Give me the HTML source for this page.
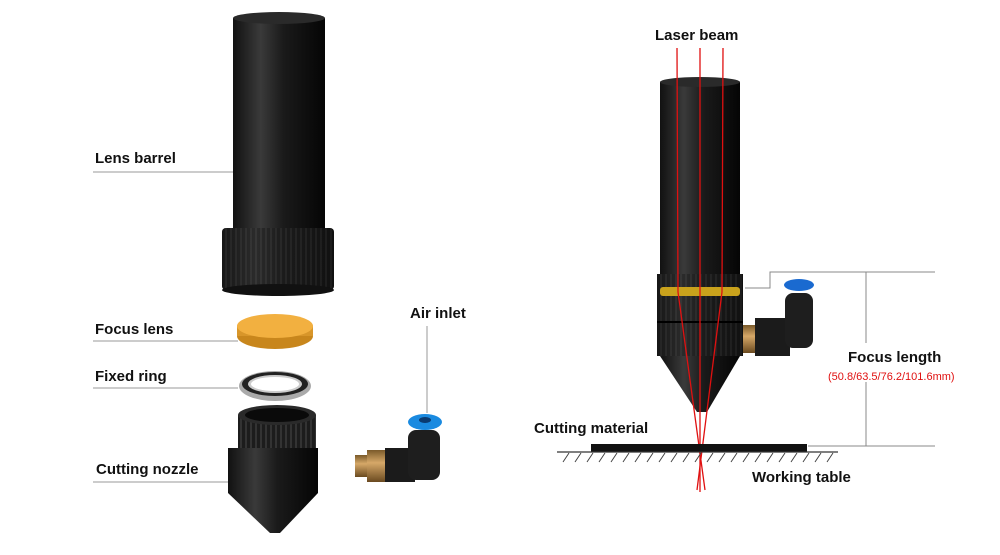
<!DOCTYPE html>
<html><head><meta charset="utf-8"><style>
body{margin:0;background:#fff;width:1000px;height:550px;overflow:hidden}
text{font-family:"Liberation Sans",Arial,sans-serif;font-weight:bold;font-size:15px;fill:#111}
</style></head><body>
<svg width="1000" height="550" viewBox="0 0 1000 550" xmlns="http://www.w3.org/2000/svg">
<defs>
<linearGradient id="blk" x1="0" x2="1"><stop offset="0" stop-color="#111"/><stop offset=".3" stop-color="#3a3a3a"/><stop offset=".55" stop-color="#1a1a1a"/><stop offset="1" stop-color="#050505"/></linearGradient>
<linearGradient id="brass" x1="0" x2="0" y1="0" y2="1"><stop offset="0" stop-color="#7a5a2a"/><stop offset=".4" stop-color="#d6a868"/><stop offset="1" stop-color="#6a4a20"/></linearGradient>
<pattern id="knurl" width="5" height="10" patternUnits="userSpaceOnUse"><rect width="5" height="10" fill="#1c1c1c"/><rect width="2" height="10" fill="#333"/></pattern>
</defs>
<!-- left barrel -->
<rect x="233" y="18" width="92" height="210" fill="url(#blk)"/>
<ellipse cx="279" cy="18" rx="46" ry="6" fill="#2a2a2a"/>
<rect x="222" y="228" width="112" height="62" rx="4" fill="url(#knurl)"/>
<rect x="222" y="228" width="112" height="62" rx="4" fill="url(#blk)" opacity=".5"/>
<ellipse cx="278" cy="290" rx="56" ry="6" fill="#111"/>
<!-- focus lens -->
<ellipse cx="275" cy="336" rx="38" ry="13" fill="#c8861c"/>
<rect x="237" y="326" width="76" height="10" fill="#d8962a"/>
<ellipse cx="275" cy="326" rx="38" ry="12" fill="#f2b040"/>
<!-- fixed ring -->
<ellipse cx="275" cy="386" rx="36" ry="15" fill="#aaa"/>
<ellipse cx="275" cy="384" rx="33" ry="12" fill="#222"/>
<ellipse cx="275" cy="384" rx="27" ry="9" fill="#ccc"/>
<ellipse cx="275" cy="384" rx="24" ry="7" fill="#fff"/>
<!-- cutting nozzle -->
<rect x="238" y="415" width="78" height="35" fill="url(#knurl)"/>
<ellipse cx="277" cy="415" rx="39" ry="10" fill="#2a2a2a"/>
<ellipse cx="277" cy="415" rx="32" ry="7" fill="#0a0a0a"/>
<rect x="228" y="448" width="90" height="45" fill="url(#blk)"/>
<polygon points="228,493 318,493 280,533 270,533" fill="url(#blk)"/>
<!-- air fitting left -->
<rect x="355" y="455" width="12" height="22" fill="url(#brass)"/>
<rect x="367" y="450" width="20" height="32" fill="url(#brass)"/>
<rect x="385" y="448" width="30" height="34" fill="#1b1b1b"/>
<rect x="408" y="430" width="32" height="50" rx="8" fill="#1e1e1e"/>
<ellipse cx="425" cy="422" rx="17" ry="8" fill="#1a8ae0"/>
<ellipse cx="425" cy="420" rx="6" ry="3" fill="#0a3a70"/>
<!-- left labels -->
<text x="95" y="163">Lens barrel</text>
<line x1="93" y1="172" x2="233" y2="172" stroke="#999"/>
<text x="95" y="334">Focus lens</text>
<line x1="93" y1="341" x2="238" y2="341" stroke="#999"/>
<text x="95" y="381">Fixed ring</text>
<line x1="93" y1="388" x2="238" y2="388" stroke="#999"/>
<text x="96" y="474">Cutting nozzle</text>
<line x1="93" y1="482" x2="228" y2="482" stroke="#999"/>
<text x="410" y="318">Air inlet</text>
<line x1="427" y1="326" x2="427" y2="413" stroke="#999"/>
<!-- right assembly -->
<rect x="660" y="82" width="80" height="192" fill="url(#blk)"/>
<ellipse cx="700" cy="82" rx="40" ry="5" fill="#2a2a2a"/>
<rect x="657" y="274" width="86" height="82" fill="url(#knurl)"/>
<rect x="657" y="274" width="86" height="82" fill="url(#blk)" opacity=".5"/>
<rect x="660" y="287" width="80" height="9" rx="3" fill="#c9a21c"/>
<line x1="657" y1="322" x2="743" y2="322" stroke="#000" stroke-width="2"/>
<polygon points="660,356 740,356 707,412 697,412" fill="url(#blk)"/>
<rect x="743" y="325" width="14" height="28" fill="url(#brass)"/>
<rect x="755" y="318" width="35" height="38" fill="#1b1b1b"/>
<rect x="785" y="293" width="28" height="55" rx="8" fill="#1e1e1e"/>
<ellipse cx="799" cy="285" rx="15" ry="6" fill="#1a6ad0"/>
<!-- beams -->
<g stroke="#e01010" stroke-width="1.3" fill="none">
<polyline points="677,48 678,292 705,490"/>
<line x1="700" y1="48" x2="700" y2="492"/>
<polyline points="723,48 722,292 697,490"/>
</g>
<text x="655" y="40">Laser beam</text>
<!-- dimension lines -->
<polyline points="745,288 770,288 770,272 935,272" fill="none" stroke="#888"/>
<line x1="866" y1="272" x2="866" y2="343" stroke="#888"/>
<line x1="866" y1="382" x2="866" y2="446" stroke="#888"/>
<line x1="808" y1="446" x2="935" y2="446" stroke="#888"/>
<text x="848" y="362">Focus length</text>
<text x="828" y="380" style="font-weight:normal;font-size:11px;fill:#e01010">(50.8/63.5/76.2/101.6mm)</text>
<!-- material & table -->
<text x="534" y="433">Cutting material</text>
<rect x="591" y="444" width="216" height="8" fill="#111"/>
<line x1="557" y1="452" x2="838" y2="452" stroke="#333" stroke-width="1.3"/>
<g stroke="#444" stroke-width="1">
<path d="M563 462l6-9M575 462l6-9M587 462l6-9M599 462l6-9M611 462l6-9M623 462l6-9M635 462l6-9M647 462l6-9M659 462l6-9M671 462l6-9M683 462l6-9M695 462l6-9M707 462l6-9M719 462l6-9M731 462l6-9M743 462l6-9M755 462l6-9M767 462l6-9M779 462l6-9M791 462l6-9M803 462l6-9M815 462l6-9M827 462l6-9"/>
</g>
<text x="752" y="482">Working table</text>
</svg>
</body></html>
